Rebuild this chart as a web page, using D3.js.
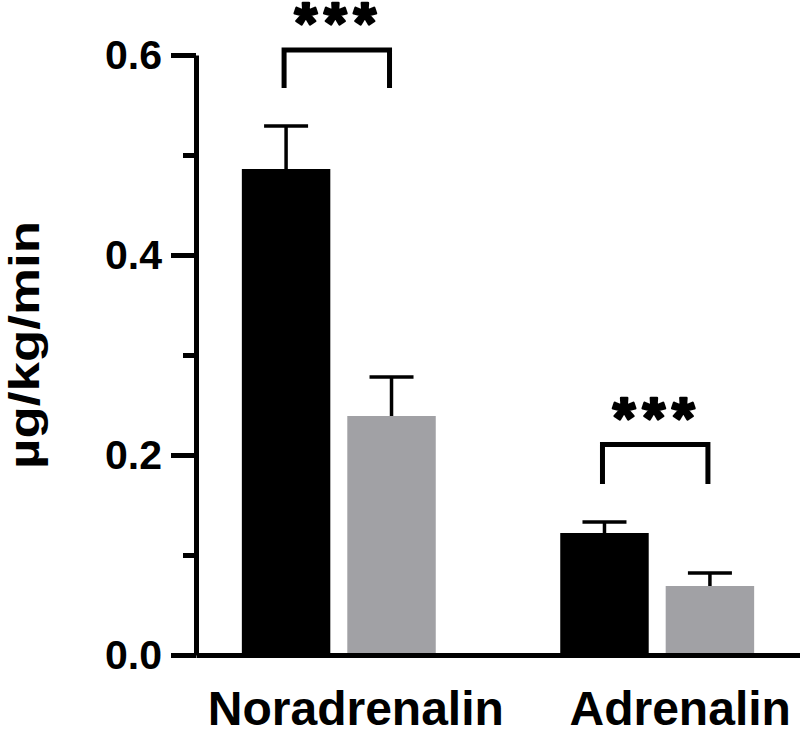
<!DOCTYPE html>
<html>
<head>
<meta charset="utf-8">
<script src="https://cdn.jsdelivr.net/npm/d3@7"></script>
<style>
  body { margin: 0; background: #fff; }
  text { font-family: "Liberation Sans", Arial, sans-serif; font-weight: bold; }
</style>
</head>
<body>
<div id="chart"></div>
<script>
// data
const groups = ["Noradrenalin", "Adrenalin"];
const series = ["Group 1", "Group 2"];
const group1Means = [0.486, 0.122];
const group1Err = [0.043, 0.011];
const group2Means = [0.239, 0.069];
const group2Err = [0.039, 0.013];
const majorTicks = [0, 0.2, 0.4, 0.6];
const minorTicks = [0.1, 0.3, 0.5];
const sigLabels = ["***", "***"];
const bracketTop = [0.605, 0.2105];
const bracketLegs = [0.567, 0.171];

const colors = { "Group 1": "#000000", "Group 2": "#a1a1a5" };

const width = 800;
const height = 741;

const svg = d3.select("#chart").append("svg")
  .attr("width", width)
  .attr("height", height);

const y = d3.scaleLinear().domain([0, 0.6]).range([655, 55]);

const x = d3.scaleBand()
  .domain(groups)
  .range([196, 800])
  .paddingInner(0.391)
  .paddingOuter(0.144);

const xs = d3.scaleBand()
  .domain(series)
  .range([0, x.bandwidth()])
  .paddingInner(0.161);

// build rows for bars
let rows = [];
groups.forEach((g, i) => {
  rows.push({ group: g, s: series[0], v: group1Means[i], e: group1Err[i] });
  rows.push({ group: g, s: series[1], v: group2Means[i], e: group2Err[i] });
});

const cx = d => x(d.group) + xs(d.s) + xs.bandwidth() / 2;

// bars
svg.selectAll("rect.bar").data(rows).enter()
  .append("rect")
  .attr("class", "bar")
  .attr("x", d => x(d.group) + xs(d.s))
  .attr("y", d => y(d.v))
  .attr("width", xs.bandwidth())
  .attr("height", d => y(0) - y(d.v))
  .style("fill", d => colors[d.s]);

// error bars (upper only)
svg.selectAll("line.stem").data(rows).enter()
  .append("line")
  .attr("x1", cx).attr("x2", cx)
  .attr("y1", d => y(d.v)).attr("y2", d => y(d.v + d.e))
  .style("stroke", "#000").style("stroke-width", 3.5);

svg.selectAll("line.cap").data(rows).enter()
  .append("line")
  .attr("x1", d => cx(d) - 22).attr("x2", d => cx(d) + 22)
  .attr("y1", d => y(d.v + d.e)).attr("y2", d => y(d.v + d.e))
  .style("stroke", "#000").style("stroke-width", 3.5);

// y axis
const yAxis = svg.append("g")
  .attr("transform", "translate(196,0)")
  .call(d3.axisLeft(y).tickValues(majorTicks).tickFormat(d3.format(".1f"))
    .tickSize(25).tickSizeOuter(0).tickPadding(9));
yAxis.selectAll("path, line").style("stroke", "#000").style("stroke-width", 5);
yAxis.selectAll("text").style("font-size", "41px").style("fill", "#000")
  .style("font-family", "'Liberation Sans', Arial, sans-serif").style("font-weight", "bold");

const yMinor = svg.append("g")
  .attr("transform", "translate(196,0)")
  .call(d3.axisLeft(y).tickValues(minorTicks).tickSize(13).tickSizeOuter(0).tickFormat(""));
yMinor.select(".domain").remove();
yMinor.selectAll("line").style("stroke", "#000").style("stroke-width", 5);

// x axis
const xAxis = svg.append("g")
  .attr("transform", `translate(0,${y(0)})`)
  .call(d3.axisBottom(x).tickSize(0).tickSizeOuter(0).tickPadding(36));
xAxis.select(".domain").style("stroke", "#000").style("stroke-width", 5);
xAxis.selectAll("text")
  .attr("dx", (d, i) => i === 0 ? 17 : 23)
  .style("font-size", "48px").style("fill", "#000")
  .style("font-family", "'Liberation Sans', Arial, sans-serif").style("font-weight", "bold");

// y title
svg.append("text")
  .attr("transform", "translate(39,345) rotate(-90)")
  .attr("text-anchor", "middle")
  .attr("textLength", 248)
  .attr("lengthAdjust", "spacingAndGlyphs")
  .style("font-size", "42px")
  .text("µg/kg/min");

// significance brackets
groups.forEach((g, i) => {
  const x1 = x(g) + xs(series[0]) + xs.bandwidth() / 2 - 2;
  const x2 = x(g) + xs(series[1]) + xs.bandwidth() / 2 - 2;
  svg.append("path")
    .attr("d", `M${x1},${y(bracketLegs[i])}V${y(bracketTop[i])}H${x2}V${y(bracketLegs[i])}`)
    .style("fill", "none").style("stroke", "#000").style("stroke-width", 5)
    .style("stroke-linejoin", "miter");
  svg.append("text")
    .attr("x", (x1 + x2) / 2 + 2)
    .attr("y", y(bracketTop[i]) - 7)
    .attr("text-anchor", "middle")
    .style("font-size", "58px")
    .style("letter-spacing", "7px")
    .style("stroke", "#000")
    .style("stroke-width", 2.5)
    .style("stroke-linejoin", "round")
    .text(sigLabels[i]);
});
</script>
</body>
</html>
